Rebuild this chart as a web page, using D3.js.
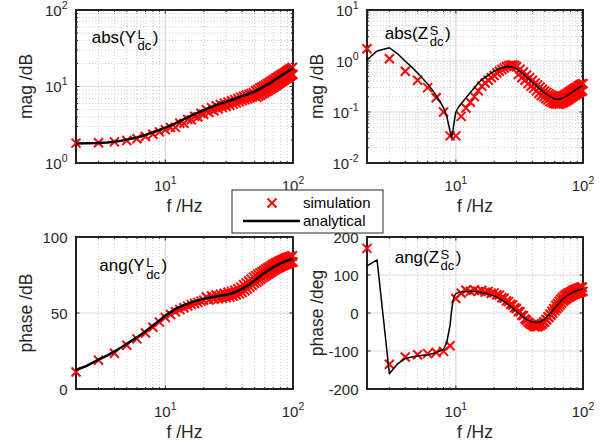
<!DOCTYPE html>
<html>
<head>
<meta charset="utf-8">
<script src="https://cdn.jsdelivr.net/npm/d3@7"></script>
<style>
body { margin: 0; background: #fff; }
svg { font-family: "Liberation Sans", Arial, sans-serif; }
</style>
</head>
<body>
<div id="chart"></div>
<script>
// frequencies of the simulation points (one per Hz)
var freqSim = [2, 3, 4, 5, 6, 7, 8, 9, 10,
    11, 12, 13, 14, 15, 16, 17, 18, 19, 20,
    21, 22, 23, 24, 25, 26, 27, 28, 29, 30,
    31, 32, 33, 34, 35, 36, 37, 38, 39, 40,
    41, 42, 43, 44, 45, 46, 47, 48, 49, 50,
    51, 52, 53, 54, 55, 56, 57, 58, 59, 60,
    61, 62, 63, 64, 65, 66, 67, 68, 69, 70,
    71, 72, 73, 74, 75, 76, 77, 78, 79, 80,
    81, 82, 83, 84, 85, 86, 87, 88, 89, 90,
    91, 92, 93, 94, 95, 96, 97, 98, 99, 100];

// frequencies of the analytical curve
var freqAna = [2, 2.4, 3, 3.5, 4, 4.5, 5, 5.5, 6, 6.5, 7, 7.5, 8, 8.5, 9, 9.25, 9.5, 9.75,
    10, 10.5, 11, 12, 13, 14, 15, 16, 18, 20, 22, 25, 28, 30, 33, 36, 40, 45, 50,
    55, 60, 65, 70, 75, 80, 85, 90, 95, 100];

// abs(Y_dc^L)
var magYsim = [1.82, 1.84, 1.89, 1.97, 2.08, 2.22, 2.38, 2.55, 2.72,
    2.91, 2.92, 3.31, 3.30, 3.71, 3.66, 4.09, 4.00, 4.46, 4.34,
    4.99, 4.57, 5.29, 4.83, 5.59, 5.07, 5.84, 5.29, 6.07, 5.48,
    6.29, 5.68, 6.52, 5.89, 6.74, 6.09, 6.98, 6.31, 7.22, 6.53,
    7.46, 6.72, 7.67, 6.91, 7.89, 7.10, 8.10, 7.29, 8.32, 7.48,
    8.85, 7.25, 9.15, 7.50, 9.55, 7.75, 9.85, 8.05, 10.2, 8.30,
    10.5, 8.55, 10.9, 8.80, 11.2, 9.10, 11.6, 9.40, 12.0, 9.70,
    12.4, 10.0, 12.8, 10.3, 13.1, 10.6, 13.5, 11.0, 13.9, 11.3,
    14.3, 11.6, 14.7, 11.9, 15.0, 12.2, 15.4, 12.6, 15.8, 12.9,
    16.3, 13.2, 16.6, 13.5, 17.0, 13.8, 17.4, 14.1, 17.8, 14.4];
var magYana = [1.80, 1.81, 1.83, 1.86, 1.90, 1.95, 2.02, 2.09, 2.16, 2.24, 2.33, 2.42, 2.52,
    2.62, 2.71, 2.76, 2.81, 2.86, 2.90, 3.00, 3.10, 3.30, 3.52, 3.74, 3.95, 4.15, 4.55,
    4.93, 5.25, 5.70, 6.08, 6.30, 6.65, 7.00, 7.50, 8.05, 8.60, 9.30, 10.1, 10.9, 11.8,
    12.7, 13.7, 14.6, 15.6, 16.5, 17.4];

// abs(Z_dc^S)
var magZsim = [1.74, 1.11, 0.63, 0.42, 0.30, 0.19, 0.10, 0.034, 0.034,
    0.082, 0.12, 0.155, 0.20, 0.26, 0.32, 0.37, 0.42, 0.47, 0.52,
    0.58, 0.63, 0.68, 0.73, 0.78, 0.81, 0.83, 0.84, 0.82, 0.77,
    0.54, 0.69, 0.47, 0.61, 0.42, 0.53, 0.36, 0.47, 0.32, 0.42,
    0.29, 0.37, 0.26, 0.34, 0.23, 0.31, 0.21, 0.28, 0.196, 0.26,
    0.182, 0.243, 0.171, 0.228, 0.16, 0.216, 0.154, 0.207, 0.147, 0.198,
    0.144, 0.197, 0.143, 0.196, 0.142, 0.198, 0.146, 0.204, 0.150, 0.209,
    0.155, 0.218, 0.162, 0.227, 0.168, 0.237, 0.176, 0.248, 0.184, 0.259,
    0.192, 0.27, 0.20, 0.28, 0.208, 0.29, 0.216, 0.30, 0.224, 0.31,
    0.232, 0.325, 0.24, 0.335, 0.248, 0.345, 0.254, 0.354, 0.261, 0.36];
var magZana = [1.05, 1.57, 1.82, 1.37, 0.99, 0.76, 0.58, 0.45, 0.355, 0.275, 0.21, 0.16, 0.12,
    0.08, 0.042, 0.031, 0.045, 0.07, 0.10, 0.125, 0.145, 0.19, 0.24, 0.30, 0.37, 0.43, 0.53,
    0.63, 0.71, 0.78, 0.76, 0.70, 0.59, 0.48, 0.38, 0.29, 0.235, 0.20, 0.18, 0.178, 0.19,
    0.21, 0.235, 0.26, 0.285, 0.31, 0.33];

// ang(Y_dc^L)
var angYsim = [11.2, 19.0, 23.5, 28.8, 33.0, 36.8, 40.6, 44.0, 47.0,
    49.0, 50.8, 52.2, 53.4, 54.5, 55.5, 56.3, 57.0, 57.8, 58.4,
    60.5, 58.6, 61.2, 59.0, 61.8, 59.3, 62.4, 59.6, 63.0, 60.0,
    63.6, 60.5, 64.2, 61.2, 65.0, 61.8, 66.0, 62.6, 67.0, 63.5,
    68.6, 64.6, 69.8, 65.8, 71.0, 67.0, 72.3, 68.2, 73.6, 69.4,
    74.6, 70.3, 75.6, 71.3, 76.4, 72.2, 77.2, 73.1, 78.0, 74.0,
    78.8, 74.8, 79.6, 75.6, 80.3, 76.3, 81.0, 77.0, 81.7, 77.7,
    82.3, 78.3, 82.9, 78.9, 83.4, 79.4, 83.9, 79.9, 84.4, 80.4,
    84.8, 80.9, 85.2, 81.3, 85.6, 81.7, 86.0, 82.0, 86.3, 82.3,
    86.6, 82.6, 86.9, 82.9, 87.1, 83.2, 87.3, 83.4, 87.5, 83.6];
var angYana = [12.5, 15.0, 19.3, 22.0, 24.7, 27.3, 29.8, 32.0, 34.1, 36.0, 37.9, 39.9, 41.8,
    43.5, 45.1, 45.9, 46.7, 47.5, 48.3, 49.5, 50.6, 52.7, 54.0, 55.2, 56.1, 57.0, 58.3,
    59.3, 60.0, 60.8, 61.5, 62.0, 62.9, 64.0, 65.9, 68.5, 71.4, 74.0, 76.4, 78.4, 80.1,
    81.5, 82.7, 83.7, 84.5, 85.1, 85.6];

// ang(Z_dc^S)
var angZsim = [170, -135, -116, -110, -107, -104, -101, -86, 38,
    52, 60, 57, 61, 57, 59, 55, 57, 52, 53,
    48, 47, 40, 39, 32, 30, 23, 21, 14, 12,
    4, 3, -6, -7, -16, -19, -24, -27, -30, -32,
    -34, -36, -35, -36, -33, -33, -29, -29, -24, -24,
    -17, -18, -10, -12, -3, -6, 5, -1, 12, 6,
    20, 11, 25, 16, 31, 21, 36, 26, 41, 31,
    45, 34, 48, 37, 51, 40, 53, 42, 55, 44,
    57, 46, 59, 48, 61, 50, 62, 51, 63, 52,
    65, 53, 66, 54, 67, 55, 68, 56, 68, 57];
var angZana = [124, 140, -160, -133, -120, -116, -113, -111, -110, -107, -104, -100, -96,
    -76, -32, 5, 33, 45, 51, 54, 55, 56.5, 57, 56.5, 55, 53.5, 50, 45, 38, 26, 12, 4,
    -8, -17, -24, -25, -16, -2, 13, 26, 38, 46, 51, 56, 59, 62, 64];

var legendNames = ["simulation", "analytical"];

var svg = d3.select("#chart").append("svg")
    .attr("width", 609)
    .attr("height", 445);

var panels = [
    {left: 76, right: 293, top: 10, bottom: 163, ylog: true, ydom: [1, 100],
     sim: magYsim, ana: magYana, lw: 2.5, ylabel: "mag /dB",
     title: ["abs(Y", "L", "dc"], tx: 91.7, ty: 42.7},
    {left: 367, right: 583, top: 10, bottom: 163, ylog: true, ydom: [0.01, 10],
     sim: magZsim, ana: magZana, lw: 1.5, ylabel: "mag /dB",
     title: ["abs(Z", "S", "dc"], tx: 384.7, ty: 38.7},
    {left: 76, right: 293, top: 237, bottom: 389, ylog: false, ydom: [0, 100], yticks: [0, 50, 100],
     sim: angYsim, ana: angYana, lw: 2.5, ylabel: "phase /dB",
     title: ["ang(Y", "L", "dc"], tx: 99.3, ty: 271.3},
    {left: 367, right: 583, top: 237, bottom: 389, ylog: false, ydom: [-200, 200],
     yticks: [-200, -100, 0, 100, 200],
     sim: angZsim, ana: angZana, lw: 1.5, ylabel: "phase /deg",
     title: ["ang(Z", "S", "dc"], tx: 394.7, ty: 262.7}
];

function isDecade(v) {
    var l = Math.log10(v);
    return Math.abs(l - Math.round(l)) < 1e-9;
}

function powLabel(sel, v) {
    sel.append("tspan").text("10");
    sel.append("tspan").attr("font-size", 10.5).attr("dy", -7)
        .text(Math.round(Math.log10(v)));
}

// TeX-like title: main text, then superscript and subscript stacked, then ")"
function drawTitle(g, x0, y0, parts) {
    var t = g.append("text").attr("x", x0).attr("y", y0)
        .attr("font-size", 17).text(parts[0]);
    var sx = x0 + t.node().getComputedTextLength() + 1.5;
    var sup = g.append("text").attr("x", sx).attr("y", y0 - 4.2)
        .attr("font-size", 13).text(parts[1]);
    var sub = g.append("text").attr("x", sx).attr("y", y0 + 7.5)
        .attr("font-size", 13).text(parts[2]);
    var w2 = Math.max(sup.node().getComputedTextLength(), sub.node().getComputedTextLength());
    g.append("text").attr("x", sx + w2 + 1.5).attr("y", y0)
        .attr("font-size", 17).text(")");
}

panels.forEach(function(p) {
    var g = svg.append("g");
    var x = d3.scaleLog().domain([2, 100]).range([p.left, p.right]);
    var y = p.ylog ? d3.scaleLog().domain(p.ydom).range([p.bottom, p.top])
                   : d3.scaleLinear().domain(p.ydom).range([p.bottom, p.top]);

    var xt = x.ticks();
    var xMajor = xt.filter(isDecade);
    var xMinor = xt.filter(function(d) { return !isDecade(d); });
    var yt = p.ylog ? y.ticks() : p.yticks;
    var yMajor = p.ylog ? yt.filter(isDecade) : p.yticks;
    var yMinor = p.ylog ? yt.filter(function(d) { return !isDecade(d); }) : [];

    // minor grid (dotted)
    g.selectAll(".xmin").data(xMinor).enter().append("line")
        .attr("x1", function(d) { return x(d); })
        .attr("x2", function(d) { return x(d); })
        .attr("y1", p.top).attr("y2", p.bottom)
        .attr("stroke", "#b8b8b8").attr("stroke-width", 0.8)
        .attr("stroke-dasharray", "1,2.2");
    g.selectAll(".ymin").data(yMinor).enter().append("line")
        .attr("x1", p.left).attr("x2", p.right)
        .attr("y1", function(d) { return y(d); })
        .attr("y2", function(d) { return y(d); })
        .attr("stroke", "#b8b8b8").attr("stroke-width", 0.8)
        .attr("stroke-dasharray", "1,2.2");

    // major grid
    g.selectAll(".xmaj").data(xMajor).enter().append("line")
        .attr("x1", function(d) { return x(d); })
        .attr("x2", function(d) { return x(d); })
        .attr("y1", p.top).attr("y2", p.bottom)
        .attr("stroke", "#d9d9d9").attr("stroke-width", 1.2);
    g.selectAll(".ymaj").data(yMajor).enter().append("line")
        .attr("x1", p.left).attr("x2", p.right)
        .attr("y1", function(d) { return y(d); })
        .attr("y2", function(d) { return y(d); })
        .attr("stroke", "#d9d9d9").attr("stroke-width", 1.2);

    // tick marks on all four sides, pointing inwards
    xt.forEach(function(d) {
        var len = isDecade(d) ? 3.5 : 2;
        g.append("line").attr("x1", x(d)).attr("x2", x(d))
            .attr("y1", p.bottom).attr("y2", p.bottom - len)
            .attr("stroke", "#262626").attr("stroke-width", 1);
        g.append("line").attr("x1", x(d)).attr("x2", x(d))
            .attr("y1", p.top).attr("y2", p.top + len)
            .attr("stroke", "#262626").attr("stroke-width", 1);
    });
    yt.forEach(function(d) {
        var len = (!p.ylog || isDecade(d)) ? 3.5 : 2;
        g.append("line").attr("x1", p.left).attr("x2", p.left + len)
            .attr("y1", y(d)).attr("y2", y(d))
            .attr("stroke", "#262626").attr("stroke-width", 1);
        g.append("line").attr("x1", p.right).attr("x2", p.right - len)
            .attr("y1", y(d)).attr("y2", y(d))
            .attr("stroke", "#262626").attr("stroke-width", 1);
    });

    // box
    g.append("rect")
        .attr("x", p.left).attr("y", p.top)
        .attr("width", p.right - p.left).attr("height", p.bottom - p.top)
        .attr("fill", "none").attr("stroke", "#222").attr("stroke-width", 2);

    // tick labels
    xMajor.forEach(function(d) {
        var t = g.append("text").attr("x", x(d)).attr("y", p.bottom + 28)
            .attr("text-anchor", "middle").attr("font-size", 15).attr("fill", "#262626");
        powLabel(t, d);
    });
    yMajor.forEach(function(d) {
        var t = g.append("text").attr("x", p.left - 8.5).attr("y", y(d) + 5.5)
            .attr("text-anchor", "end").attr("font-size", 15).attr("fill", "#262626");
        if (p.ylog) powLabel(t, d); else t.text(d);
    });

    // axis labels
    g.append("text")
        .attr("x", (p.left + p.right) / 2).attr("y", p.bottom + 48.5)
        .attr("text-anchor", "middle").attr("font-size", 17.5).attr("fill", "#262626")
        .text("f /Hz");
    g.append("text")
        .attr("transform", "translate(" + (p.left - 44) + "," + ((p.top + p.bottom) / 2) + ") rotate(-90)")
        .attr("text-anchor", "middle").attr("font-size", 17.5).attr("fill", "#262626")
        .text(p.ylabel);

    // simulation markers
    var s = 4.5;
    g.selectAll(".sim").data(freqSim).enter().append("path")
        .attr("d", function(d, i) {
            var cx = x(d), cy = y(p.sim[i]);
            return "M" + (cx - s) + "," + (cy - s) + "L" + (cx + s) + "," + (cy + s) +
                   "M" + (cx - s) + "," + (cy + s) + "L" + (cx + s) + "," + (cy - s);
        })
        .attr("stroke", "#ff0000").attr("stroke-width", 2).attr("fill", "none");

    // analytical line
    var line = d3.line()
        .x(function(d, i) { return x(freqAna[i]); })
        .y(function(d) { return y(d); });
    g.append("path").datum(p.ana)
        .attr("d", line)
        .attr("fill", "none").attr("stroke", "#000")
        .attr("stroke-width", p.lw).attr("stroke-linejoin", "round");

    drawTitle(g, p.tx, p.ty, p.title);
});

// legend
var lg = svg.append("g");
lg.append("rect").attr("x", 232).attr("y", 190).attr("width", 151).attr("height", 43)
    .attr("fill", "#fff").attr("stroke", "#262626").attr("stroke-width", 1);
lg.append("path")
    .attr("d", "M267.5,198.5L276.5,207.5M267.5,207.5L276.5,198.5")
    .attr("stroke", "#ff0000").attr("stroke-width", 2);
lg.append("line").attr("x1", 243).attr("x2", 300).attr("y1", 221).attr("y2", 221)
    .attr("stroke", "#000").attr("stroke-width", 2.5);
lg.selectAll(".lt").data(legendNames).enter().append("text")
    .attr("x", 303).attr("y", function(d, i) { return 208 + i * 18; })
    .attr("font-size", 15).attr("fill", "#000")
    .text(function(d) { return d; });
</script>
</body>
</html>
